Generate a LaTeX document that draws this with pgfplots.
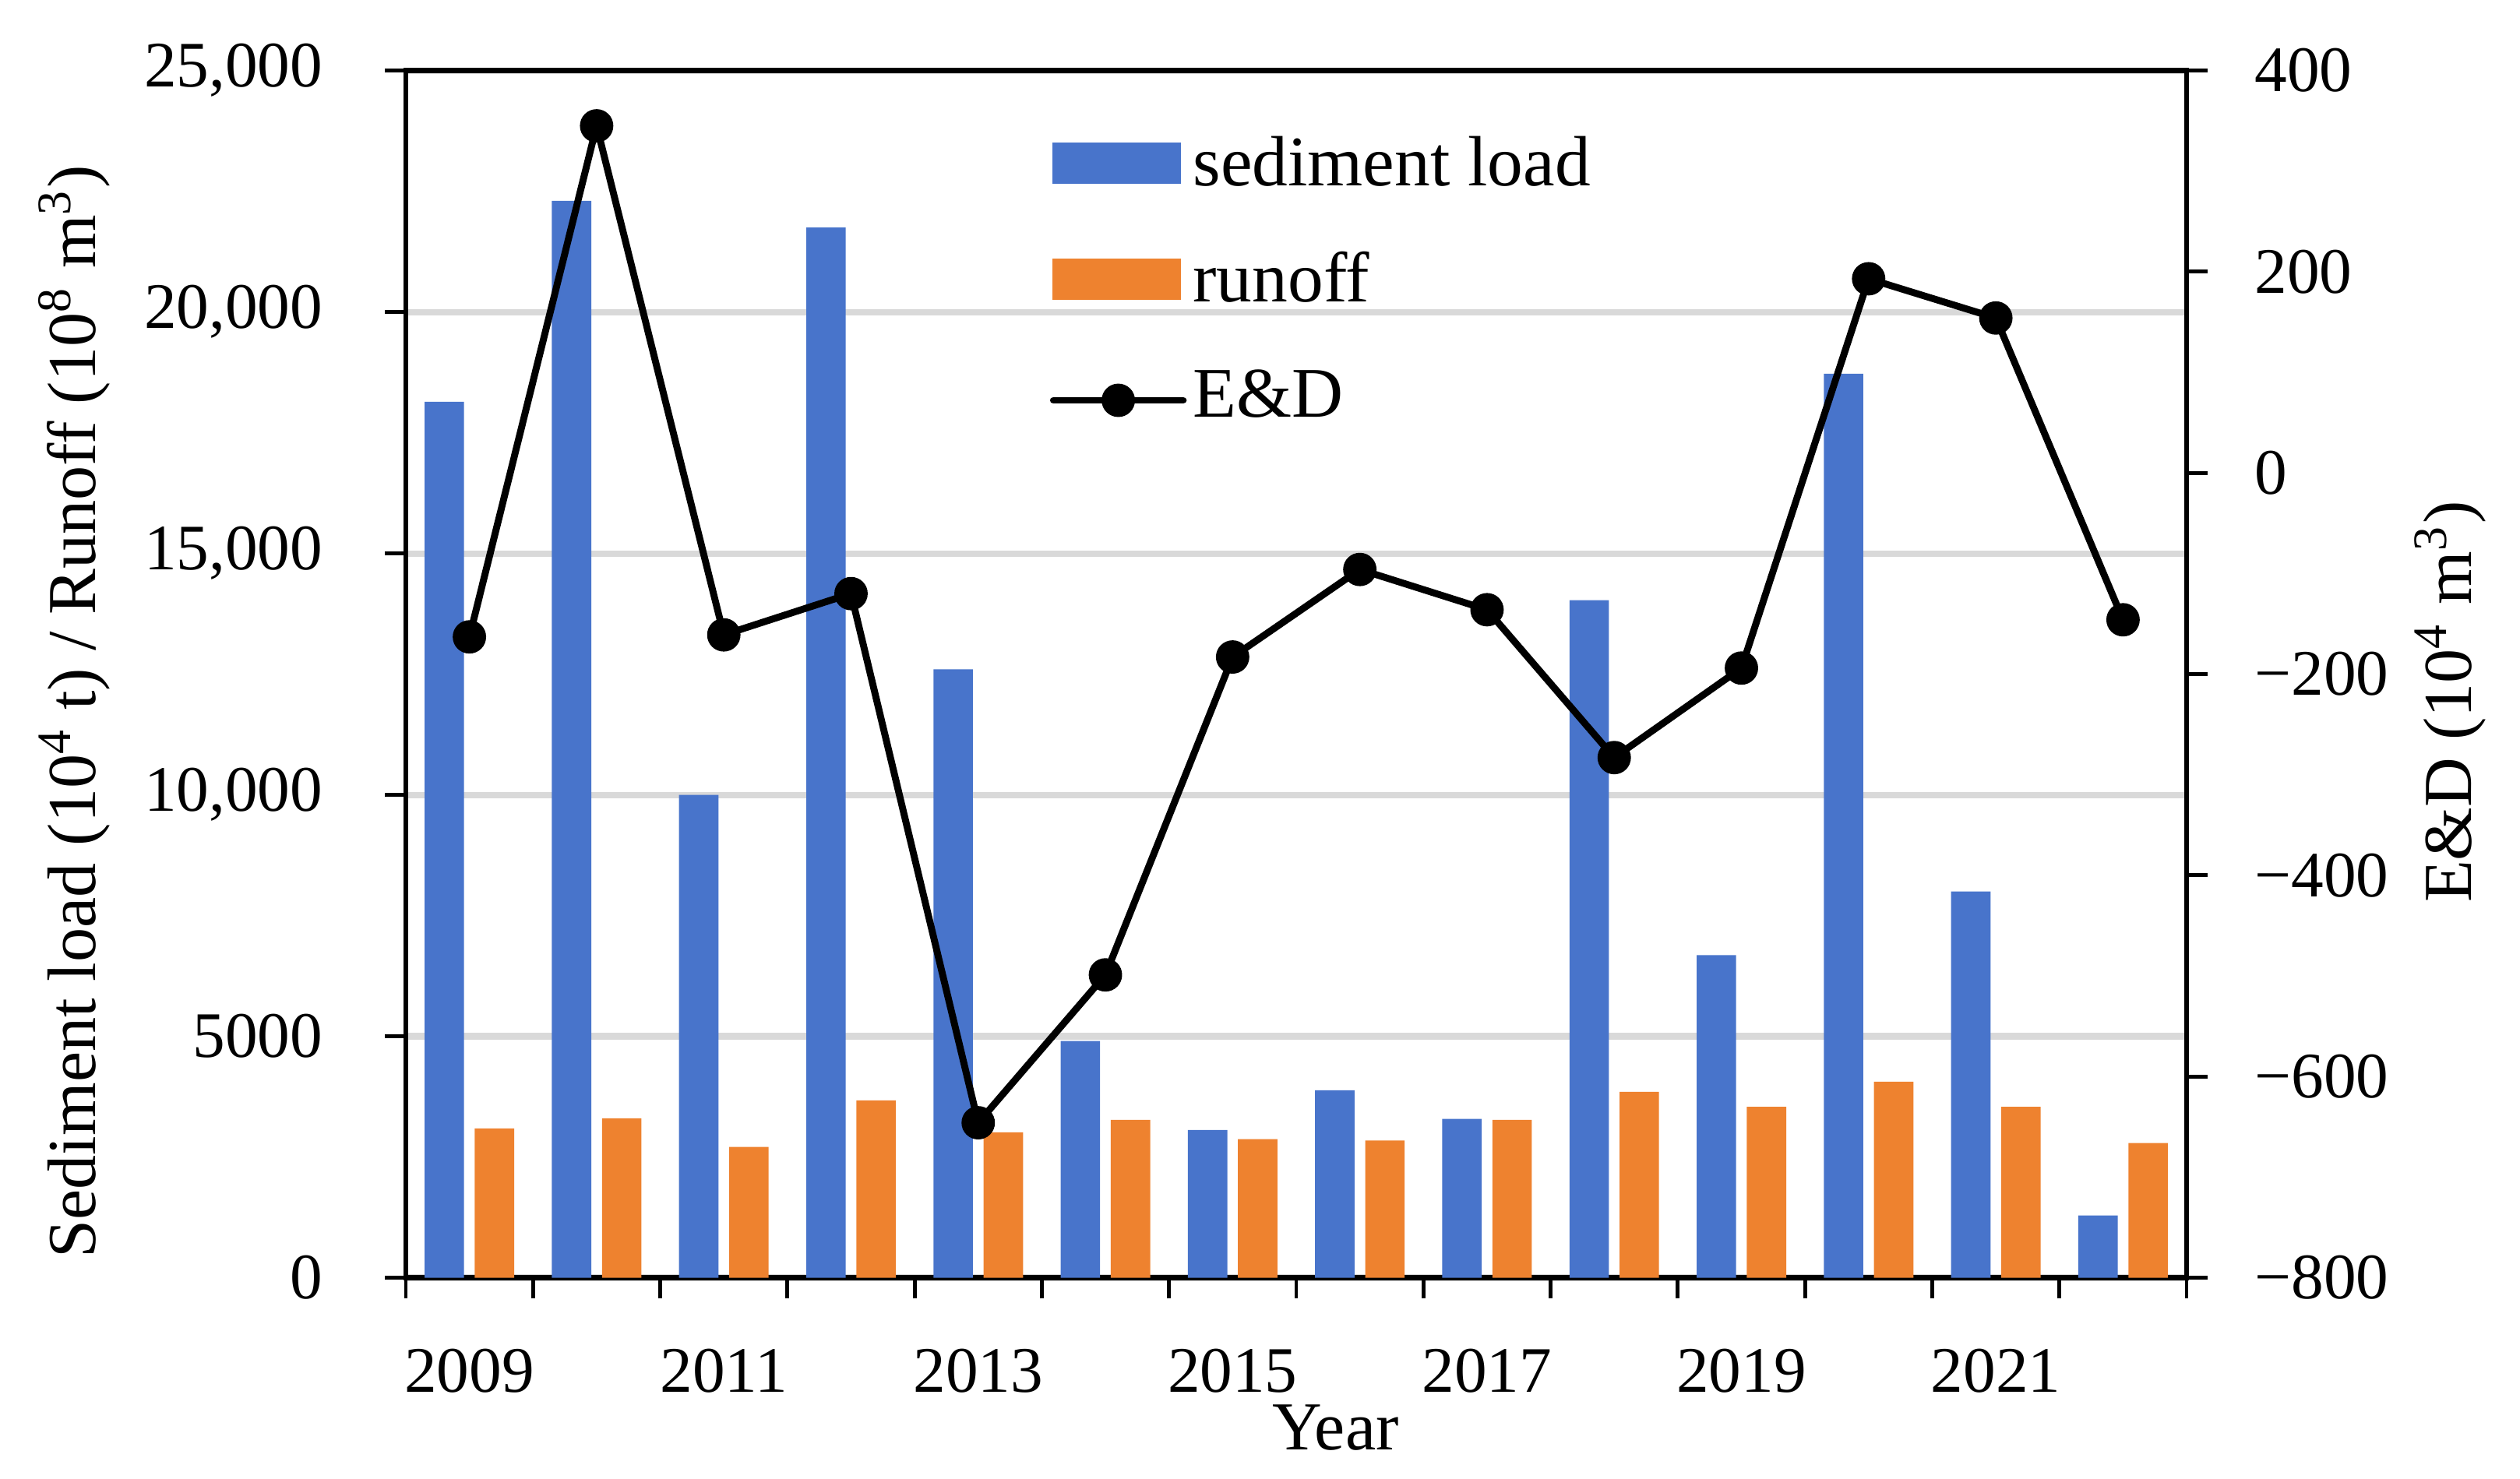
\documentclass[border=0pt]{standalone}
\usepackage{fontspec}
\setmainfont{Liberation Serif}
\usepackage{pgfplots}
\pgfplotsset{compat=1.18}
\usepackage{pgfplotstable}

\definecolor{sedblue}{HTML}{4874CB}
\definecolor{runorange}{HTML}{EE822F}
\definecolor{gridgray}{RGB}{217,217,217}

\newcommand{\tickfont}{\fontsize{10.3}{12}\selectfont}
\newcommand{\labfont}{\fontsize{10.9}{13}\selectfont}
\newcommand{\legfont}{\fontsize{11.3}{13.5}\selectfont}

% idx 0..13 = 2009..2022
\pgfplotstableread{
idx year sediment runoff ed
0  2009 18140 3090 -163
1  2010 22300 3300  345
2  2011 10000 2710 -161
3  2012 21750 3670 -120
4  2013 12600 3010 -646
5  2014  4900 3270 -499
6  2015  3060 2870 -183
7  2016  3880 2840  -96
8  2017  3290 3270 -136
9  2018 14030 3850 -283
10 2019  6680 3540 -194
11 2020 18720 4060  193
12 2021  8000 3540  154
13 2022  1290 2790 -146
}\datatable

\pgfplotsset{
  twinaxes/.style={
    scale only axis,
    width=282.6pt, height=191.6pt,
    at={(0pt,0pt)}, anchor=south west,
    xmin=-0.5, xmax=13.5,
    tick align=outside,
    major tick length=3.3pt,
    tick style={line width=0.6pt, black},
    axis line style={line width=0.8pt, black, -},
    tick label style={font=\tickfont, inner sep=0pt},
    scaled ticks=false,
  },
  boxlegend/.style={legend image code/.code={\fill[##1] (0pt,-2.2pt) rectangle (20pt,3.9pt);}},
  edlegend/.style={legend image code/.code={\draw[mark repeat=2, mark phase=2, ##1] plot coordinates {(0pt,0pt) (10.3pt,0pt) (20.6pt,0pt)};}},
}

\begin{document}
\begin{tikzpicture}
\useasboundingbox (-64.4pt,-31.9pt) rectangle (335.5pt,202.8pt);

\begin{axis}[
  twinaxes,
  ymin=0, ymax=25000,
  tick pos=left,
  xtick={-0.5,0.5,...,13.5},
  xticklabels={2009,,2011,,2013,,2015,,2017,,2019,,2021,,},
  xticklabel style={anchor=base, xshift=10.09pt, yshift=-14.9pt},
  ytick={0,5000,...,25000},
  yticklabels={0,5000,{10,000},{15,000},{20,000},{25,000}},
  yticklabel style={anchor=east, xshift=-9.7pt},
  ymajorgrids,
  y grid style={gridgray, line width=1pt},
  xlabel={Year},
  every axis x label/.style={at={(axis description cs:0.522,-0.1425)}, anchor=base, font=\labfont},
  ylabel={Sediment load (10\textsuperscript{4} t) / Runoff (10\textsuperscript{8} m\textsuperscript{3})},
  every axis y label/.style={at={(axis description cs:-0.1863,0.469)}, rotate=90, anchor=center, font=\labfont},
]
\addplot[ybar, bar width=0.31, bar shift=-0.197, fill=sedblue, draw=none]
  table[x=idx, y=sediment] {\datatable};
\addplot[ybar, bar width=0.31, bar shift=0.197, fill=runorange, draw=none]
  table[x=idx, y=runoff] {\datatable};
\end{axis}

\begin{axis}[
  twinaxes,
  ymin=-800, ymax=400,
  axis x line=none,
  axis y line*=right,
  ytick={-800,-600,...,400},
  yticklabels={−800,−600,−400,−200,0,200,400},
  yticklabel style={anchor=west, xshift=7.3pt},
  ylabel={E\&D (10\textsuperscript{4} m\textsuperscript{3})},
  every axis y label/.style={at={(axis description cs:1.148,0.477)}, rotate=90, anchor=center, font=\labfont},
  legend cell align=left,
  legend style={at={(axis description cs:0.361,0.946)}, anchor=north west,
    draw=none, fill=none, inner sep=0pt, row sep=8.4pt, font=\legfont,
    nodes={inner xsep=1.0pt, inner ysep=0pt, text height=7.7pt, text depth=2.3pt}},
]
\addlegendimage{boxlegend, sedblue}
\addlegendentry{sediment load}
\addlegendimage{boxlegend, runorange}
\addlegendentry{runoff}
\addplot[black, line width=1.1pt, line join=round, line cap=round,
  mark=*, mark size=2.45pt, mark options={line width=0.4pt, fill=black}, edlegend]
  table[x=idx, y=ed] {\datatable};
\addlegendentry{E\&D}
\end{axis}
\end{tikzpicture}
\end{document}
